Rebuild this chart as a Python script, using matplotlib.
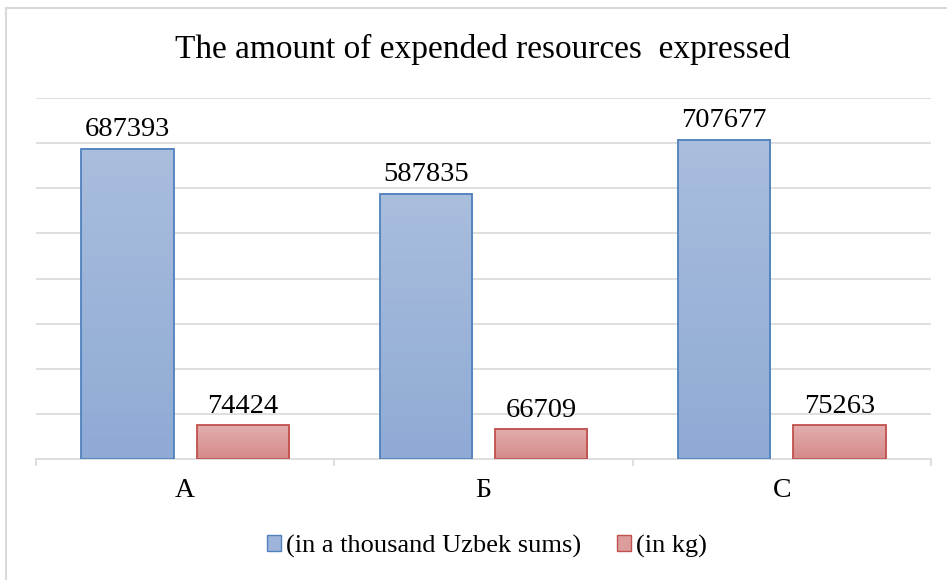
import numpy as np
import matplotlib.pyplot as plt
from matplotlib.colors import LinearSegmentedColormap
from matplotlib.lines import Line2D

categories = ['А', 'Б', 'С']
sums = [687393, 587835, 707677]
kg = [74424, 66709, 75263]
series_names = ['(in a thousand Uzbek sums)', '(in kg)']

plt.rcParams['font.family'] = ['Liberation Serif', 'DejaVu Serif']

fig = plt.figure(figsize=(9.47, 5.8), dpi=100)
ax = fig.add_axes([36 / 947, 121 / 580, 895 / 947, 361 / 580])

blue_cmap = LinearSegmentedColormap.from_list('b', ['#8eaad5', '#aabedd'])
red_cmap = LinearSegmentedColormap.from_list('r', ['#d58a89', '#e2aeae'])
grad = np.linspace(0, 1, 256).reshape(-1, 1)

width = 0.31
offset = 0.193
x = np.arange(len(categories))

series = [(sums, -offset, blue_cmap, '#4f81bd'), (kg, offset, red_cmap, '#c0504d')]
for vals, off, cmap, edge in series:
    for xi, v in zip(x, vals):
        left = xi + off - width / 2
        ax.imshow(grad, cmap=cmap, origin='lower', aspect='auto',
                  extent=[left, left + width, 0, v], zorder=2)
        ax.add_patch(plt.Rectangle((left, 0), width, v, fill=False,
                                   edgecolor=edge, linewidth=1.3, zorder=3))
        ax.text(xi + off, v + 14000, str(v), ha='center', va='bottom',
                fontsize=20.5, color='black', zorder=4)

ax.set_xlim(-0.5, 2.5)
ax.set_ylim(0, 800000)
ax.set_yticks(np.arange(100000, 800001, 100000))
ax.yaxis.grid(True, color='#d9d9d9', linewidth=1.2)
ax.set_axisbelow(True)
ax.tick_params(axis='y', left=False, labelleft=False)
ax.set_xticks([-0.5, 0.5, 1.5, 2.5])
ax.set_xticklabels([])
ax.set_xticks(x, minor=True)
ax.set_xticklabels(categories, minor=True, fontsize=20)
ax.tick_params(axis='x', which='major', length=5, color='#d9d9d9', width=1.2)
ax.tick_params(axis='x', which='minor', length=0, pad=14)
for s in ['top', 'right', 'left']:
    ax.spines[s].set_visible(False)
ax.spines['bottom'].set_color('#d9d9d9')
ax.spines['bottom'].set_linewidth(1.2)

fig.text(483 / 947, 1 - 49 / 580, 'The amount of expended resources  expressed',
         ha='center', va='center', fontsize=24)

handles = [plt.Rectangle((0, 0), 1, 1, facecolor='#9fb4da', edgecolor='#4f81bd'),
           plt.Rectangle((0, 0), 1, 1, facecolor='#dc9e9d', edgecolor='#c0504d')]
fig.legend(handles, series_names, loc='center', bbox_to_anchor=(487 / 947, 1 - 546 / 580),
           ncol=2, frameon=False, fontsize=19, handlelength=0.53, handleheight=0.53,
           handletextpad=0.2, columnspacing=1.36, borderpad=0, borderaxespad=0)

fig.add_artist(Line2D([6 / 947, 1], [1 - 8 / 580, 1 - 8 / 580], color='#d9d9d9', linewidth=1.5))
fig.add_artist(Line2D([6 / 947, 6 / 947], [0, 1 - 8 / 580], color='#d9d9d9', linewidth=1.5))

fig.savefig('out.png', dpi=100)
